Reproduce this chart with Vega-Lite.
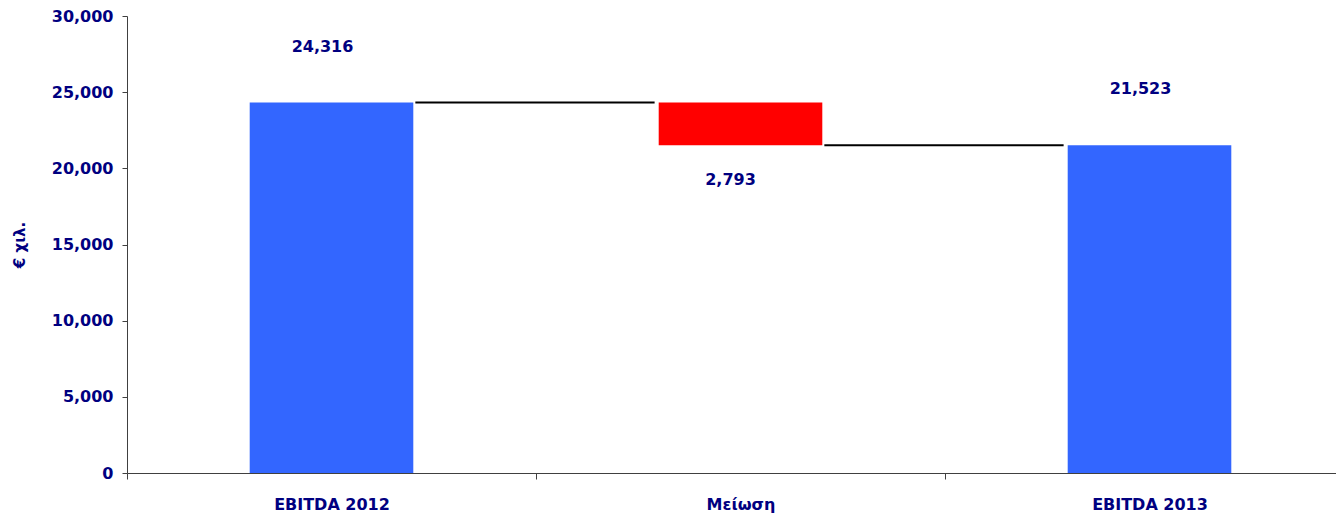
{
  "$schema": "https://vega.github.io/schema/vega-lite/v6.json",
  "width": 1227,
  "height": 457,
  "autosize": {"type": "none"},
  "padding": {"left": 127, "top": 16, "right": 0, "bottom": 41},
  "background": "white",
  "config": {
    "view": {"stroke": null},
    "font": "DejaVu Sans",
    "axis": {
      "labelFont": "DejaVu Sans",
      "labelFontWeight": "bold",
      "labelFontSize": 16,
      "labelColor": "#000080",
      "titleFont": "DejaVu Sans",
      "titleFontWeight": "bold",
      "titleColor": "#000080",
      "domainColor": "#404040",
      "tickColor": "#404040",
      "grid": false
    }
  },
  "datasets": {
    "steps": [
      {"category": "EBITDA 2012", "start": 0, "end": 24316, "label": "24,316", "kind": "total"},
      {"category": "Μείωση", "start": 24316, "end": 21523, "label": "2,793", "kind": "decrease"},
      {"category": "EBITDA 2013", "start": 0, "end": 21523, "label": "21,523", "kind": "total"}
    ],
    "connectors": [
      {"from": "EBITDA 2012", "to": "Μείωση", "level": 24316},
      {"from": "Μείωση", "to": "EBITDA 2013", "level": 21523}
    ]
  },
  "layer": [
    {
      "data": {"name": "steps"},
      "mark": {"type": "bar", "width": {"band": 0.4}},
      "encoding": {
        "x": {
          "field": "category", "type": "nominal",
          "scale": {"domain": ["EBITDA 2012", "Μείωση", "EBITDA 2013"], "paddingInner": 0, "paddingOuter": 0},
          "axis": {"title": null, "labelAngle": 0, "tickBand": "extent", "tickSize": 6, "labelPadding": 17}
        },
        "y": {
          "field": "start", "type": "quantitative",
          "scale": {"domain": [0, 30000], "nice": false},
          "axis": {"title": "€ χιλ.", "values": [0, 5000, 10000, 15000, 20000, 25000, 30000], "format": ",.0f", "tickSize": 5, "labelPadding": 9, "titleFontSize": 15, "titlePadding": 24}
        },
        "y2": {"field": "end"},
        "color": {
          "field": "kind", "type": "nominal",
          "scale": {"domain": ["total", "decrease"], "range": ["#3366FF", "#FF0000"]},
          "legend": null
        }
      }
    },
    {
      "data": {"name": "connectors"},
      "mark": {"type": "rule", "color": "black", "strokeWidth": 2},
      "encoding": {
        "x": {"field": "from", "type": "nominal", "bandPosition": 0.705},
        "x2": {"field": "to", "bandPosition": 0.29},
        "y": {"field": "level", "type": "quantitative"}
      }
    },
    {
      "data": {"name": "steps"},
      "transform": [{"filter": "datum.kind == 'total'"}],
      "mark": {"type": "text", "dy": -56, "dx": -9, "baseline": "middle", "font": "DejaVu Sans", "fontWeight": "bold", "fontSize": 16, "color": "#000080"},
      "encoding": {
        "x": {"field": "category", "type": "nominal"},
        "y": {"field": "end", "type": "quantitative"},
        "text": {"field": "label"}
      }
    },
    {
      "data": {"name": "steps"},
      "transform": [{"filter": "datum.kind == 'decrease'"}],
      "mark": {"type": "text", "dy": 35, "dx": -10, "baseline": "middle", "font": "DejaVu Sans", "fontWeight": "bold", "fontSize": 16, "color": "#000080"},
      "encoding": {
        "x": {"field": "category", "type": "nominal"},
        "y": {"field": "end", "type": "quantitative"},
        "text": {"field": "label"}
      }
    }
  ]
}
